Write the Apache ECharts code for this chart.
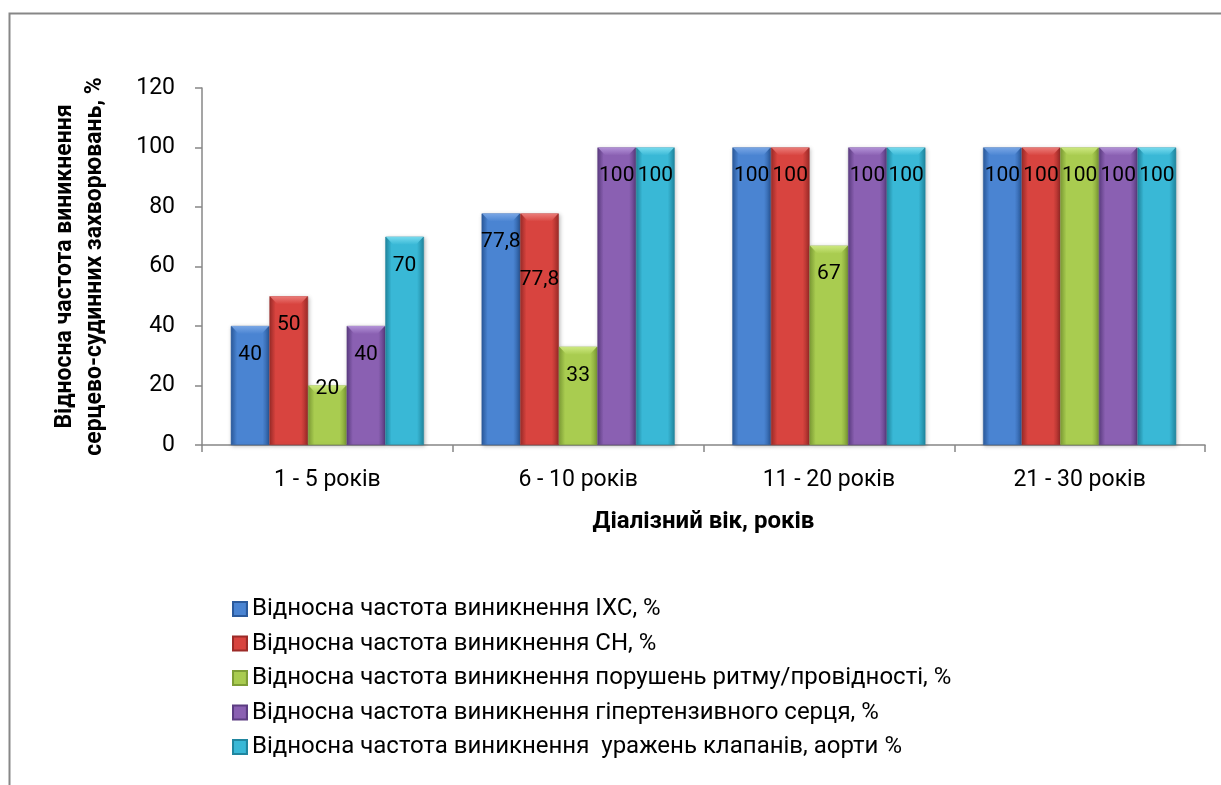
<!DOCTYPE html>
<html>
<head>
<meta charset="utf-8">
<script src="https://cdn.jsdelivr.net/npm/echarts@6/dist/echarts.min.js"></script>
<style>
  html, body { margin: 0; padding: 0; background: #fff; }
  #chart { width: 1221px; height: 785px; }
</style>
</head>
<body>
<div id="chart"></div>
<script>
// Dialysis age groups
const categories = ['1 - 5 років', '6 - 10 років', '11 - 20 років', '21 - 30 років'];

// Relative frequency of cardiovascular diseases, %
const seriesNames = [
  'Відносна частота виникнення ІХС, %',
  'Відносна частота виникнення СН, %',
  'Відносна частота виникнення порушень ритму/провідності, %',
  'Відносна частота виникнення гіпертензивного серця, %',
  'Відносна частота виникнення  уражень клапанів, аорти %'
];
const ihdValues = [40, 77.8, 100, 100];
const hfValues = [50, 77.8, 100, 100];
const rhythmValues = [20, 33, 67, 100];
const hypertensiveValues = [40, 100, 100, 100];
const valveValues = [70, 100, 100, 100];

const yTicks = { min: 0, max: 120, interval: 20 };

const seriesValues = [ihdValues, hfValues, rhythmValues, hypertensiveValues, valveValues];

const CATEGORY_GAP = 0.23;
const LABEL_DISTANCE = 18;

// edge / centre / bevel shades for each series
const palette = [
  ['#2b5a9c', '#4a84d2', '#7fabe8'],
  ['#9c2b28', '#d8443f', '#ee8380'],
  ['#7e9e36', '#a9cc50', '#d2ec86'],
  ['#5c3d82', '#8a60b2', '#b898dc'],
  ['#20869f', '#39b8d6', '#7fe0f2']
];

function barFill(edge, mid) {
  return new echarts.graphic.LinearGradient(0, 0, 1, 0, [
    { offset: 0, color: edge },
    { offset: 0.16, color: mid },
    { offset: 0.82, color: mid },
    { offset: 1, color: edge }
  ]);
}

const fmt = v => String(v).replace('.', ',');

// label placement tweaks where neighbouring labels would collide
function labelDistance(si, ci) {
  if (si === 1 && ci === 1) return 56;
  if (si === 2 && ci === 0) return -7;
  return LABEL_DISTANCE;
}

const series = seriesValues.map((vals, si) => ({
  name: seriesNames[si],
  type: 'bar',
  barGap: '0%',
  barCategoryGap: (CATEGORY_GAP * 100) + '%',
  itemStyle: {
    color: barFill(palette[si][0], palette[si][1]),
    borderColor: palette[si][0],
    borderWidth: 0.5,
    shadowColor: 'rgba(0,0,0,0.25)',
    shadowBlur: 4,
    shadowOffsetX: 1,
    shadowOffsetY: 1
  },
  z: 2,
  data: vals
}));

// bevelled top face and value label for each bar
const topData = [];
seriesValues.forEach((vals, si) => vals.forEach((v, ci) => topData.push([ci, v, si])));

series.push({
  type: 'custom',
  silent: true,
  z: 3,
  encode: { x: 0, y: 1 },
  data: topData,
  renderItem: (params, api) => {
    const ci = api.value(0), v = api.value(1), si = api.value(2);
    const n = seriesValues.length;
    const band = api.size([1, 0])[0];
    const groupW = band * (1 - CATEGORY_GAP);
    const bw = groupW / n;
    const top = api.coord([ci, v]);
    const x0 = top[0] - groupW / 2 + si * bw;
    const y0 = top[1];
    const d = Math.min(8, bw / 4);
    return {
      type: 'group',
      children: [{
        type: 'polygon',
        shape: { points: [[x0 + 0.5, y0], [x0 + bw - 0.5, y0], [x0 + bw - d, y0 + d], [x0 + d, y0 + d]] },
        style: {
          fill: new echarts.graphic.LinearGradient(0, 0, 0, 1, [
            { offset: 0, color: palette[si][2] },
            { offset: 1, color: palette[si][1] }
          ]),
          opacity: 0.9
        }
      }, {
        type: 'text',
        z2: 10,
        style: {
          text: fmt(v),
          x: x0 + bw / 2,
          y: y0 + labelDistance(si, ci),
          align: 'center',
          verticalAlign: 'top',
          fill: '#000',
          font: '21px Roboto'
        }
      }]
    };
  }
});

const chart = echarts.init(document.getElementById('chart'));
chart.setOption({
  animation: false,
  backgroundColor: '#fff',
  textStyle: { fontFamily: 'Roboto' },
  graphic: [{
    type: 'rect',
    shape: { x: 9.5, y: 13.5, width: 1240, height: 800 },
    style: { fill: 'none', stroke: '#878787', lineWidth: 2 },
    silent: true,
    z: -1
  }],
  grid: { left: 202, right: 16, top: 88, bottom: 340, containLabel: false },
  legend: {
    orient: 'vertical',
    left: 227,
    top: 590,
    itemWidth: 14,
    itemHeight: 14,
    itemGap: 6.5,
    icon: 'rect',
    textStyle: { fontSize: 24, color: '#000', fontFamily: 'Roboto', lineHeight: 28 },
    data: seriesNames
  },
  xAxis: {
    type: 'category',
    data: categories,
    name: 'Діалізний вік, років',
    nameLocation: 'middle',
    nameGap: 65,
    nameTextStyle: { fontSize: 24, fontWeight: 'bold', color: '#000' },
    axisLine: { lineStyle: { color: '#878787', width: 1.5 } },
    axisTick: { show: true, length: 7, lineStyle: { color: '#878787', width: 1.5 } },
    axisLabel: { fontSize: 23, color: '#000', margin: 24 }
  },
  yAxis: {
    type: 'value',
    min: yTicks.min,
    max: yTicks.max,
    interval: yTicks.interval,
    name: 'Відносна частота виникнення\nсерцево-судинних захворювань, %',
    nameLocation: 'middle',
    nameRotate: 90,
    nameGap: 92,
    nameTextStyle: { fontSize: 23, fontWeight: 'bold', color: '#000', lineHeight: 30 },
    axisLine: { show: true, lineStyle: { color: '#878787', width: 1.5 } },
    axisTick: { show: true, length: 7, lineStyle: { color: '#878787', width: 1.5 } },
    splitLine: { show: false },
    axisLabel: { fontSize: 23, color: '#000', margin: 27 }
  },
  series
});
</script>
</body>
</html>
